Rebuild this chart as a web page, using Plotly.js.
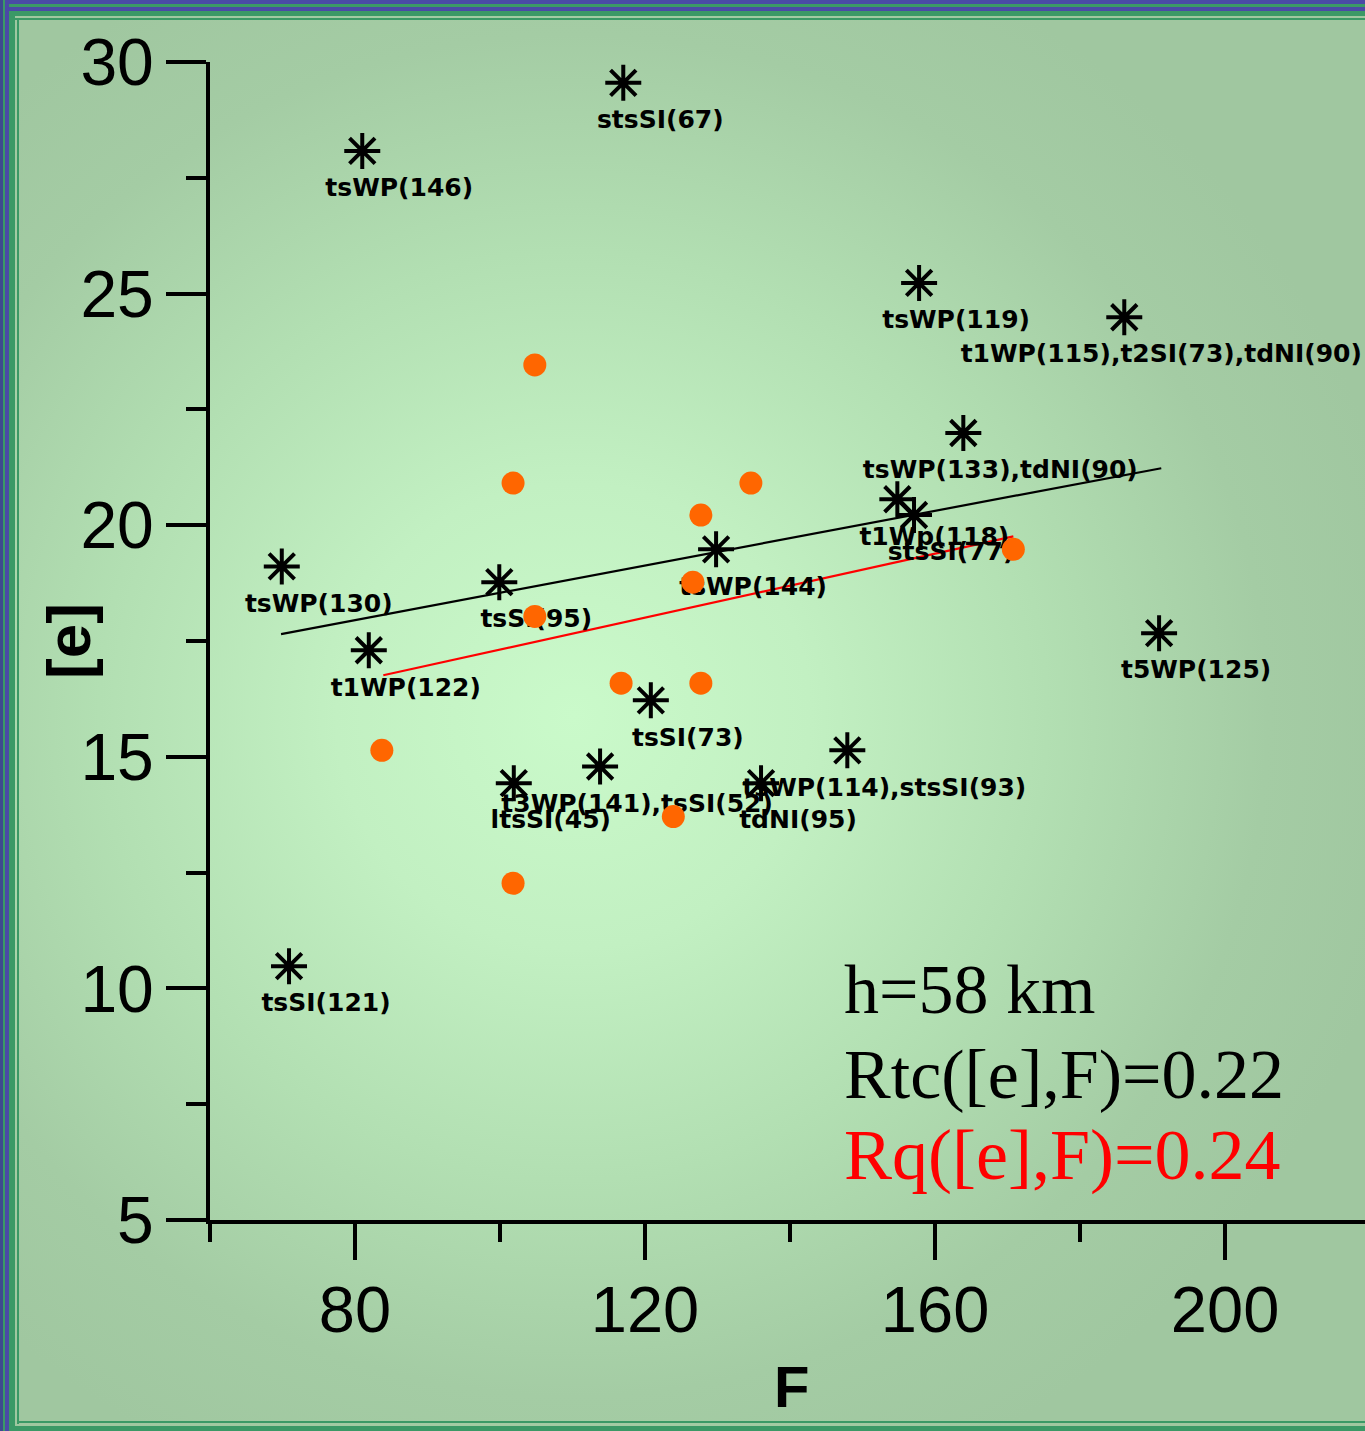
<!DOCTYPE html>
<html>
<head>
<meta charset="utf-8">
<script src="https://cdn.plot.ly/plotly-3.0.1.min.js"></script>
<style>
html,body{margin:0;padding:0;}
#wrap{position:relative;width:1365px;height:1431px;overflow:hidden;
  background:radial-gradient(ellipse 62% 58% at 42% 50%, #cafaca 0%, #c2f0c2 28%, #b2dfb2 56%, #a4cca4 82%, #a0c7a0 100%);}
#chart{position:absolute;left:0;top:0;width:1365px;height:1431px;}
.s{position:absolute;}
</style>
</head>
<body>
<div id="wrap">
  <div id="chart"></div>
  <div class="s" style="left:0;top:0;width:1365px;height:4px;background:#4a4aa6"></div>
  <div class="s" style="left:0;top:4px;width:1365px;height:3px;background:#3b9966"></div>
  <div class="s" style="left:0;top:7px;width:1365px;height:4px;background:#4a4aa6"></div>
  <div class="s" style="left:0;top:11px;width:1365px;height:5px;background:#3b9966"></div>
  <div class="s" style="left:0;top:18px;width:1365px;height:2px;background:#3b9966"></div>
  <div class="s" style="left:0;top:0;width:3px;height:1431px;background:#3d4a8f"></div>
  <div class="s" style="left:3px;top:0;width:2px;height:1431px;background:#3b9966"></div>
  <div class="s" style="left:5px;top:0;width:4px;height:1431px;background:#4a4aa6"></div>
  <div class="s" style="left:9px;top:11px;width:6px;height:1420px;background:#3b9966"></div>
  <div class="s" style="left:17px;top:18px;width:2px;height:1406px;background:#3b9966"></div>
  <div class="s" style="left:17px;top:1421px;width:1348px;height:2px;background:#3b9966"></div>
  <div class="s" style="left:9px;top:1426px;width:1356px;height:5px;background:#3b9966"></div>
</div>
<script>
// ---- data ----
const starF = [81, 117, 157.8, 186.1, 163.9, 154.8, 157.1, 69.9, 99.9, 129.8, 81.9, 120.8, 190.9, 101.9, 113.8, 136, 147.9, 70.9];
const starE = [28.08, 29.55, 25.23, 24.49, 21.99, 20.56, 20.22, 19.11, 18.77, 19.48, 17.30, 16.22, 17.67, 14.43, 14.79, 14.43, 15.14, 10.48];
const starLabels = ['tsWP(146)', 'stsSI(67)', 'tsWP(119)', 't1WP(115),t2SI(73),tdNI(90)', 'tsWP(133),tdNI(90)',
  't1Wp(118)', 'stsSI(77)', 'tsWP(130)', 'tsSI(95)', 'tsWP(144)', 't1WP(122)', 'tsSI(73)', 't5WP(125)',
  'ltsSI(45)', 't3WP(141),tsSI(52)', 'tdNI(95)', 'tsWP(114),stsSI(93)', 'tsSI(121)'];
const orangeF = [104.8, 101.8, 134.6, 127.7, 104.8, 126.6, 170.8, 116.7, 127.7, 83.7, 123.9, 101.8];
const orangeE = [23.46, 20.91, 20.91, 20.22, 18.03, 18.77, 19.48, 16.59, 16.59, 15.14, 13.71, 12.27];
const tcFitF = [69.8, 191.2];
const tcFitE = [17.65, 21.23];
const qFitF = [83.9, 170.8];
const qFitE = [16.76, 19.76];
const xTickVals = [80, 120, 160, 200];
const yTickVals = [5, 10, 15, 20, 25, 30];
const notes = ['h=58 km', 'Rtc([e],F)=0.22', 'Rq([e],F)=0.24'];
const xTitle = 'F';
const yTitle = '[e]';

// ---- layout constants ----
const W = 1365, H = 1431;
const M = {l: 210, r: 0, t: 62, b: 211};
const xRange = [60, 219.3];
const yRange = [5, 30];
const plotW = W - M.l - M.r, plotH = H - M.t - M.b;
const pxX = plotW / (xRange[1] - xRange[0]);
const pxY = plotH / (yRange[1] - yRange[0]);
const labDx = 37 / pxX, labDy = 39 / pxY;

const traces = [
  {x: tcFitF, y: tcFitE, mode: 'lines', line: {color: '#000', width: 2.2}, hoverinfo: 'skip'},
  {x: qFitF, y: qFitE, mode: 'lines', line: {color: '#ff0000', width: 2.2}, hoverinfo: 'skip'},
  {x: starF, y: starE, mode: 'markers',
   marker: {symbol: 'asterisk-open', size: 30, color: '#000', line: {color: '#000', width: 4}}},
  {x: starF.map(v => v + labDx), y: starE.map(v => v - labDy), mode: 'text', text: starLabels,
   textposition: 'middle center',
   textfont: {family: 'DejaVu Sans, Arial, sans-serif', size: 25, color: '#000', weight: 700}},
  {x: orangeF, y: orangeE, mode: 'markers', marker: {symbol: 'circle', size: 23, color: '#ff6600'}}
];

const noteY = [9.98, 8.14, 6.41];
const noteC = ['#000', '#000', '#ff0000'];
const noteS = [70, 70, 72];
const annotations = notes.map((t, i) => ({
  x: 147.2, y: noteY[i], xref: 'x', yref: 'y', text: t, showarrow: false,
  xanchor: 'left', yanchor: 'middle',
  font: {family: 'Liberation Serif, Times New Roman, serif', size: noteS[i], color: noteC[i]}
}));
// axis titles placed as paper annotations
annotations.push({
  x: (792 - M.l) / plotW, y: (M.t + plotH - 1386) / plotH, xref: 'paper', yref: 'paper',
  text: xTitle, showarrow: false, xanchor: 'center', yanchor: 'middle',
  font: {family: 'Liberation Sans, Arial, sans-serif', size: 58, color: '#000', weight: 700}
});
annotations.push({
  x: (68 - M.l) / plotW, y: 0.5, xref: 'paper', yref: 'paper', textangle: -90,
  text: yTitle, showarrow: false, xanchor: 'center', yanchor: 'middle',
  font: {family: 'Liberation Sans, Arial, sans-serif', size: 62, color: '#000', weight: 700}
});

const layout = {
  width: W, height: H, margin: M,
  paper_bgcolor: 'rgba(0,0,0,0)', plot_bgcolor: 'rgba(0,0,0,0)',
  showlegend: false,
  xaxis: {
    range: xRange, showgrid: false, zeroline: false,
    showline: true, linecolor: '#000', linewidth: 4,
    tickmode: 'array', tickvals: xTickVals, ticktext: xTickVals.map(String),
    ticks: 'outside', ticklen: 36, tickwidth: 4, tickcolor: '#000',
    ticklabelstandoff: -6,
    minor: {tickmode: 'array', tickvals: [60, 100, 140, 180, 220], ticks: 'outside', ticklen: 18, tickwidth: 4, tickcolor: '#000', showgrid: false},
    tickfont: {family: 'Liberation Sans, Arial, sans-serif', size: 65, color: '#000'}
  },
  yaxis: {
    range: yRange, showgrid: false, zeroline: false,
    showline: true, linecolor: '#000', linewidth: 4,
    tickmode: 'array', tickvals: yTickVals, ticktext: yTickVals.map(String),
    ticks: 'outside', ticklen: 40, tickwidth: 4, tickcolor: '#000',
    ticklabelstandoff: -1,
    minor: {tickmode: 'array', tickvals: [7.5, 12.5, 17.5, 22.5, 27.5], ticks: 'outside', ticklen: 20, tickwidth: 4, tickcolor: '#000', showgrid: false},
    tickfont: {family: 'Liberation Sans, Arial, sans-serif', size: 66, color: '#000'}
  },
  annotations: annotations
};

Plotly.newPlot('chart', traces, layout, {displayModeBar: false, staticPlot: true});
</script>
</body>
</html>
